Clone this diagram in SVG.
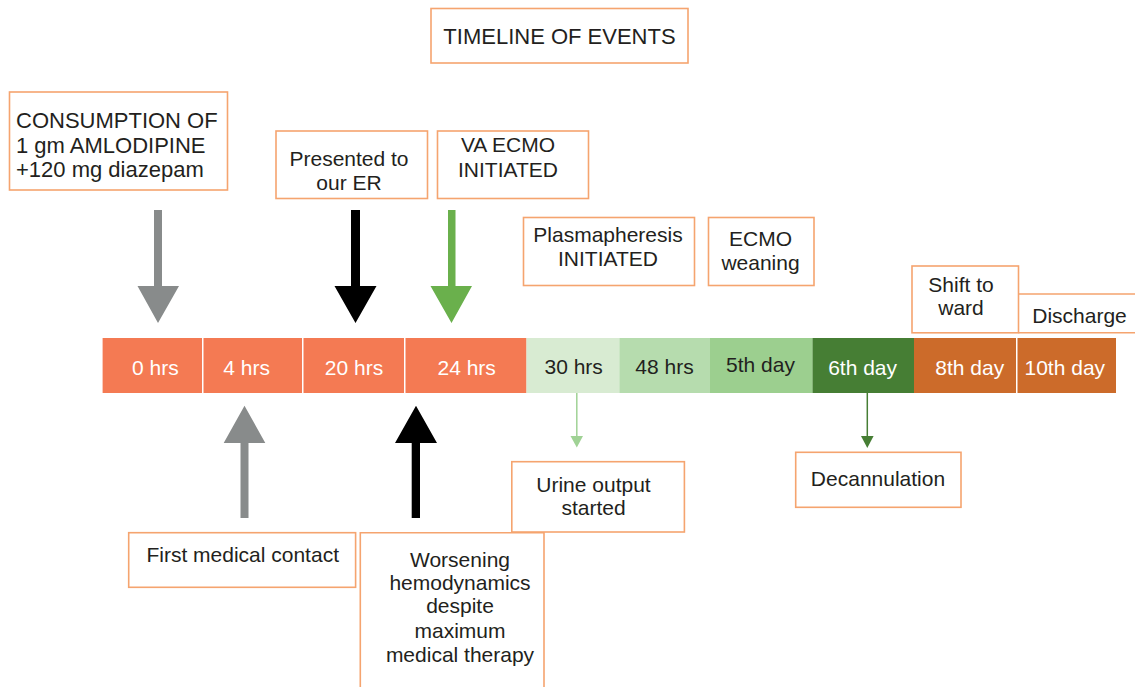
<svg xmlns="http://www.w3.org/2000/svg" width="1135" height="687" viewBox="0 0 1135 687">
<style>
text{font-family:"Liberation Sans",Arial,sans-serif;font-size:21px;fill:#231F20}
.c{text-anchor:middle}
.w{fill:#FFFFFF}
.box{fill:#FFFFFF;stroke:#F5A46F;stroke-width:1.6}
.open{fill:none;stroke:#F5A46F;stroke-width:1.6}
.or{fill:#F47A53}
.br{fill:#CC6B2A}
</style>
<rect width="1135" height="687" fill="#FFFFFF"/>
<g id="title">
<rect class="box" x="431" y="8.5" width="257" height="54.5"/>
<text class="c" x="559.5" y="43.5" style="font-size:22px">TIMELINE OF EVENTS</text>
</g>
<g id="consumption">
<rect class="box" x="9.5" y="92" width="218" height="98"/>
<text x="16" y="128" style="font-size:22px">CONSUMPTION OF</text>
<text x="16" y="152.5" style="font-size:22px">1 gm AMLODIPINE</text>
<text x="16" y="177" style="font-size:22px">+120 mg diazepam</text>
</g>
<g id="presented">
<rect class="box" x="276" y="131" width="151.5" height="67.5"/>
<text class="c" x="349" y="166">Presented to</text>
<text class="c" x="349" y="190">our ER</text>
</g>
<g id="vaecmo">
<rect class="box" x="437.5" y="131" width="151" height="67.5"/>
<text class="c" x="508" y="151.7">VA ECMO</text>
<text class="c" x="508" y="176.5">INITIATED</text>
</g>
<g id="plasmapheresis">
<rect class="box" x="523.5" y="217.5" width="171" height="68"/>
<text class="c" x="608" y="241.7">Plasmapheresis</text>
<text class="c" x="608" y="266">INITIATED</text>
</g>
<g id="ecmoweaning">
<rect class="box" x="708.5" y="217.5" width="105.5" height="68"/>
<text class="c" x="760.5" y="246">ECMO</text>
<text class="c" x="760.5" y="269.5">weaning</text>
</g>
<g id="shift">
<rect class="box" x="912" y="266" width="106.5" height="66.8"/>
<text class="c" x="961" y="291.7">Shift to</text>
<text class="c" x="961" y="315">ward</text>
</g>
<g id="discharge">
<path class="open" d="M1018.5,294 H1136 M1136,332.8 H1018.5"/>
<text class="c" x="1079.5" y="323.3">Discharge</text>
</g>
<g id="timeline">
<g id="t0"><rect class="or" x="102.6" y="338" width="99.4" height="55"/><text class="c w" x="155.3" y="375">0 hrs</text></g>
<g id="t4"><rect class="or" x="203.5" y="338" width="98.5" height="55"/><text class="c w" x="246.7" y="375">4 hrs</text></g>
<g id="t20"><rect class="or" x="303.5" y="338" width="100.5" height="55"/><text class="c w" x="354" y="375">20 hrs</text></g>
<g id="t24"><rect class="or" x="405.5" y="338" width="121" height="55"/><text class="c w" x="466.7" y="375">24 hrs</text></g>
<g id="t30"><rect fill="#D8EBD2" x="526.5" y="338" width="93" height="55"/><text class="c" x="573.7" y="373.5">30 hrs</text></g>
<g id="t48"><rect fill="#B6DCAE" x="619.4" y="338" width="90.6" height="55"/><text class="c" x="664.5" y="373.5">48 hrs</text></g>
<g id="t5d"><rect fill="#9CCF8F" x="710" y="338" width="102.8" height="55"/><text class="c" x="760.5" y="371.7">5th day</text></g>
<g id="t6d"><rect fill="#467E34" x="812.6" y="338" width="101.6" height="55"/><text class="c w" x="862.6" y="375">6th day</text></g>
<g id="t8d"><rect class="br" x="914" y="338" width="102" height="55"/><text class="c w" x="969.7" y="375">8th day</text></g>
<g id="t10d"><rect class="br" x="1017.5" y="338" width="98.5" height="55"/><text class="c w" x="1064.8" y="375">10th day</text></g>
</g>
<g id="firstcontact">
<rect class="box" x="128.7" y="532.7" width="226.9" height="54.6"/>
<text class="c" x="242.7" y="562.3">First medical contact</text>
</g>
<g id="worsening">
<path class="open" d="M360.3,688 V532.7 H544 V688"/>
<text class="c" x="460" y="566.7">Worsening</text>
<text class="c" x="460" y="590">hemodynamics</text>
<text class="c" x="460" y="613">despite</text>
<text class="c" x="460" y="637.5">maximum</text>
<text class="c" x="460" y="661.5">medical therapy</text>
</g>
<g id="urine">
<rect class="box" x="511.8" y="461.7" width="172.6" height="70.3"/>
<text class="c" x="593.5" y="491.7">Urine output</text>
<text class="c" x="593.5" y="515">started</text>
</g>
<g id="decannulation">
<rect class="box" x="795.7" y="452.3" width="165.3" height="55"/>
<text class="c" x="878" y="486">Decannulation</text>
</g>
<g id="connectors">
<polygon fill="#888B8B" points="154,210 162,210 162,286 179,286 158,323 137.5,286 154,286"/>
<polygon fill="#000000" points="351,210 360,210 360,286 376.5,286 355.5,323 334.5,286 351,286"/>
<polygon fill="#6AB04C" points="448,210 455.5,210 455.5,286 472,286 451.5,323 430.5,286 448,286"/>
<polygon fill="#888B8B" points="244.5,405.7 265.3,443 248.5,443 248.5,518 240.5,518 240.5,443 223.7,443"/>
<polygon fill="#000000" points="416,405.7 437,443 420,443 420,518 411.7,518 411.7,443 395,443"/>
<line x1="576.8" y1="393" x2="576.8" y2="437" stroke="#A0D295" stroke-width="1.5"/>
<polygon fill="#A0D295" points="570.5,436 583,436 576.8,447.5"/>
<line x1="867.3" y1="393" x2="867.3" y2="437" stroke="#467E34" stroke-width="1.5"/>
<polygon fill="#467E34" points="861,436 873.6,436 867.3,448"/>
</g>
</svg>
